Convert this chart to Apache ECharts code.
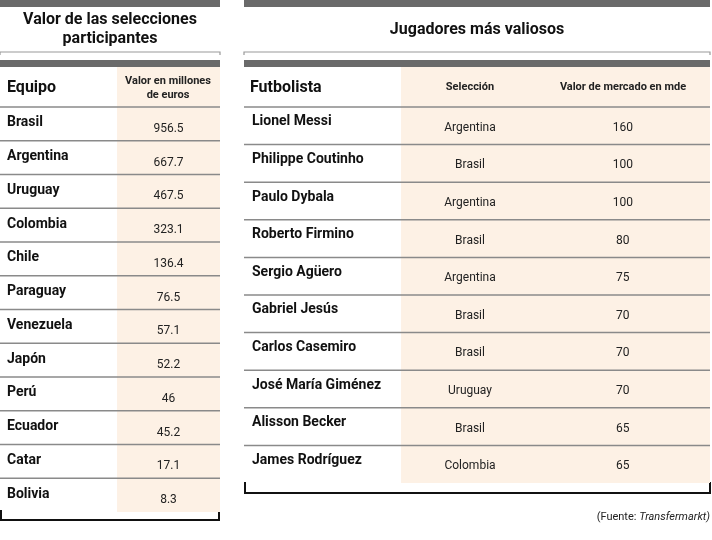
<!DOCTYPE html>
<html><head><meta charset="utf-8">
<script src="https://cdn.jsdelivr.net/npm/echarts@6/dist/echarts.min.js"></script>
<style>html,body{margin:0;padding:0;background:#fff}#c{width:712px;height:540px}</style>
</head><body><div id="c"></div>
<script>
const teams = ['Brasil','Argentina','Uruguay','Colombia','Chile','Paraguay','Venezuela','Japón','Perú','Ecuador','Catar','Bolivia'];
const teamValues = ['956.5','667.7','467.5','323.1','136.4','76.5','57.1','52.2','46','45.2','17.1','8.3'];
const players = ['Lionel Messi','Philippe Coutinho','Paulo Dybala','Roberto Firmino','Sergio Agüero','Gabriel Jesús','Carlos Casemiro','José María Giménez','Alisson Becker','James Rodríguez'];
const playerTeams = ['Argentina','Brasil','Argentina','Brasil','Argentina','Brasil','Brasil','Uruguay','Brasil','Colombia'];
const playerValues = [160,100,100,80,75,70,70,70,65,65];

const F = "'Liberation Sans Narrow','Roboto','Open Sans',sans-serif";
const SHADE = '#fdf1e5', LINE = '#8a8a8a', BAR = '#6a6a6a';

function leftItem(params, api){
  const i = api.value(1);
  const c = api.coord([0, i]); const h = api.size([0,1])[1];
  const x0 = api.coord([0,0])[0], x1 = api.coord([1,0])[0];
  const top = c[1]-h/2, w = x1-x0;
  const ch = [
    {type:'rect', shape:{x:x0+w*0.532, y:top, width:w*0.468, height:h}, style:{fill:SHADE}, silent:true},
    {type:'line', shape:{x1:x0, y1:top, x2:x1, y2:top}, style:{stroke:LINE, lineWidth:1.5}},
    {type:'text', style:{text:teams[i], x:x0+7, y:c[1]-1, verticalAlign:'middle', font:'bold 14px '+F, fill:'#111'}},
    {type:'text', style:{text:teamValues[i], x:x0+w*0.766, y:c[1]+5, align:'center', verticalAlign:'middle', font:'12px '+F, fill:'#222'}}
  ];
  return {type:'group', children:ch};
}
function rightItem(params, api){
  const i = api.value(1);
  const c = api.coord([0, i]); const h = api.size([0,1])[1];
  const x0 = api.coord([0,0])[0], x1 = api.coord([1,0])[0];
  const top = c[1]-h/2, w = x1-x0;
  const ch = [
    {type:'rect', shape:{x:x0+w*0.337, y:top, width:w*0.663, height:h}, style:{fill:SHADE}, silent:true},
    {type:'line', shape:{x1:x0, y1:top, x2:x1, y2:top}, style:{stroke:LINE, lineWidth:1.5}},
    {type:'text', style:{text:players[i], x:x0+8, y:c[1]-4, verticalAlign:'middle', font:'bold 14px '+F, fill:'#111'}},
    {type:'text', style:{text:playerTeams[i], x:x0+w*0.485, y:c[1]+2, align:'center', verticalAlign:'middle', font:'12px '+F, fill:'#222'}},
    {type:'text', style:{text:String(playerValues[i]), x:x0+w*0.813, y:c[1]+2, align:'center', verticalAlign:'middle', font:'12px '+F, fill:'#222'}}
  ];
  return {type:'group', children:ch};
}

const chart = echarts.init(document.getElementById('c'));
function frame(x, w, title, titleY){
  return [
    {type:'rect', shape:{x:x, y:0, width:w, height:7}, style:{fill:BAR}},
    {type:'text', style:{text:title, x:x+w/2, y:titleY, align:'center', verticalAlign:'middle', font:'bold 16px '+F, fill:'#111', lineHeight:19}},
    {type:'polyline', shape:{points:[[x,55],[x,52],[x+w,52],[x+w,55]]}, style:{stroke:'#999', lineWidth:1.2, fill:null}},
    {type:'rect', shape:{x:x, y:60, width:w, height:7}, style:{fill:BAR}}
  ];
}
const graphic = [].concat(
  frame(0, 220, 'Valor de las selecciones\nparticipantes', 29),
  frame(244, 466, 'Jugadores más valiosos', 30),
  [
    {type:'rect', shape:{x:117, y:67, width:103, height:40}, style:{fill:SHADE}},
    {type:'text', style:{text:'Equipo', x:7, y:88, verticalAlign:'middle', font:'bold 16px '+F, fill:'#111'}},
    {type:'text', style:{text:'Valor en millones\nde euros', x:168, y:88, align:'center', verticalAlign:'middle', font:'bold 11px '+F, fill:'#222', lineHeight:14}},
    {type:'rect', shape:{x:401, y:67, width:309, height:40}, style:{fill:SHADE}},
    {type:'text', style:{text:'Futbolista', x:250, y:88, verticalAlign:'middle', font:'bold 16px '+F, fill:'#111'}},
    {type:'text', style:{text:'Selección', x:470, y:87, align:'center', verticalAlign:'middle', font:'bold 11px '+F, fill:'#222'}},
    {type:'text', style:{text:'Valor de mercado en mde', x:623, y:87, align:'center', verticalAlign:'middle', font:'bold 11px '+F, fill:'#222'}},
    {type:'polyline', shape:{points:[[1,510],[1,520],[219,520],[219,510]]}, style:{stroke:'#111', lineWidth:2, fill:null}},
    {type:'polyline', shape:{points:[[245,482],[245,493],[710,493],[710,482]]}, style:{stroke:'#111', lineWidth:2, fill:null}},
    {type:'text', style:{text:'{n|(Fuente: }{i|Transfermarkt)}', x:710, y:517, align:'right', verticalAlign:'middle',
      rich:{n:{font:'11px '+F, fill:'#222'}, i:{font:'italic 11px '+F, fill:'#222'}}}}
  ]
);

chart.setOption({
  animation:false,
  graphic: graphic,
  grid:[
    {left:0, top:107, width:220, height:405},
    {left:244, top:107, width:466, height:376}
  ],
  xAxis:[
    {type:'value', gridIndex:0, min:0, max:1, show:false},
    {type:'value', gridIndex:1, min:0, max:1, show:false}
  ],
  yAxis:[
    {type:'category', gridIndex:0, inverse:true, data:teams, show:false},
    {type:'category', gridIndex:1, inverse:true, data:players, show:false}
  ],
  series:[
    {type:'custom', xAxisIndex:0, yAxisIndex:0, renderItem:leftItem, data:teams.map((t,i)=>[0,i])},
    {type:'custom', xAxisIndex:1, yAxisIndex:1, renderItem:rightItem, data:players.map((t,i)=>[0,i])}
  ]
});
</script></body></html>
